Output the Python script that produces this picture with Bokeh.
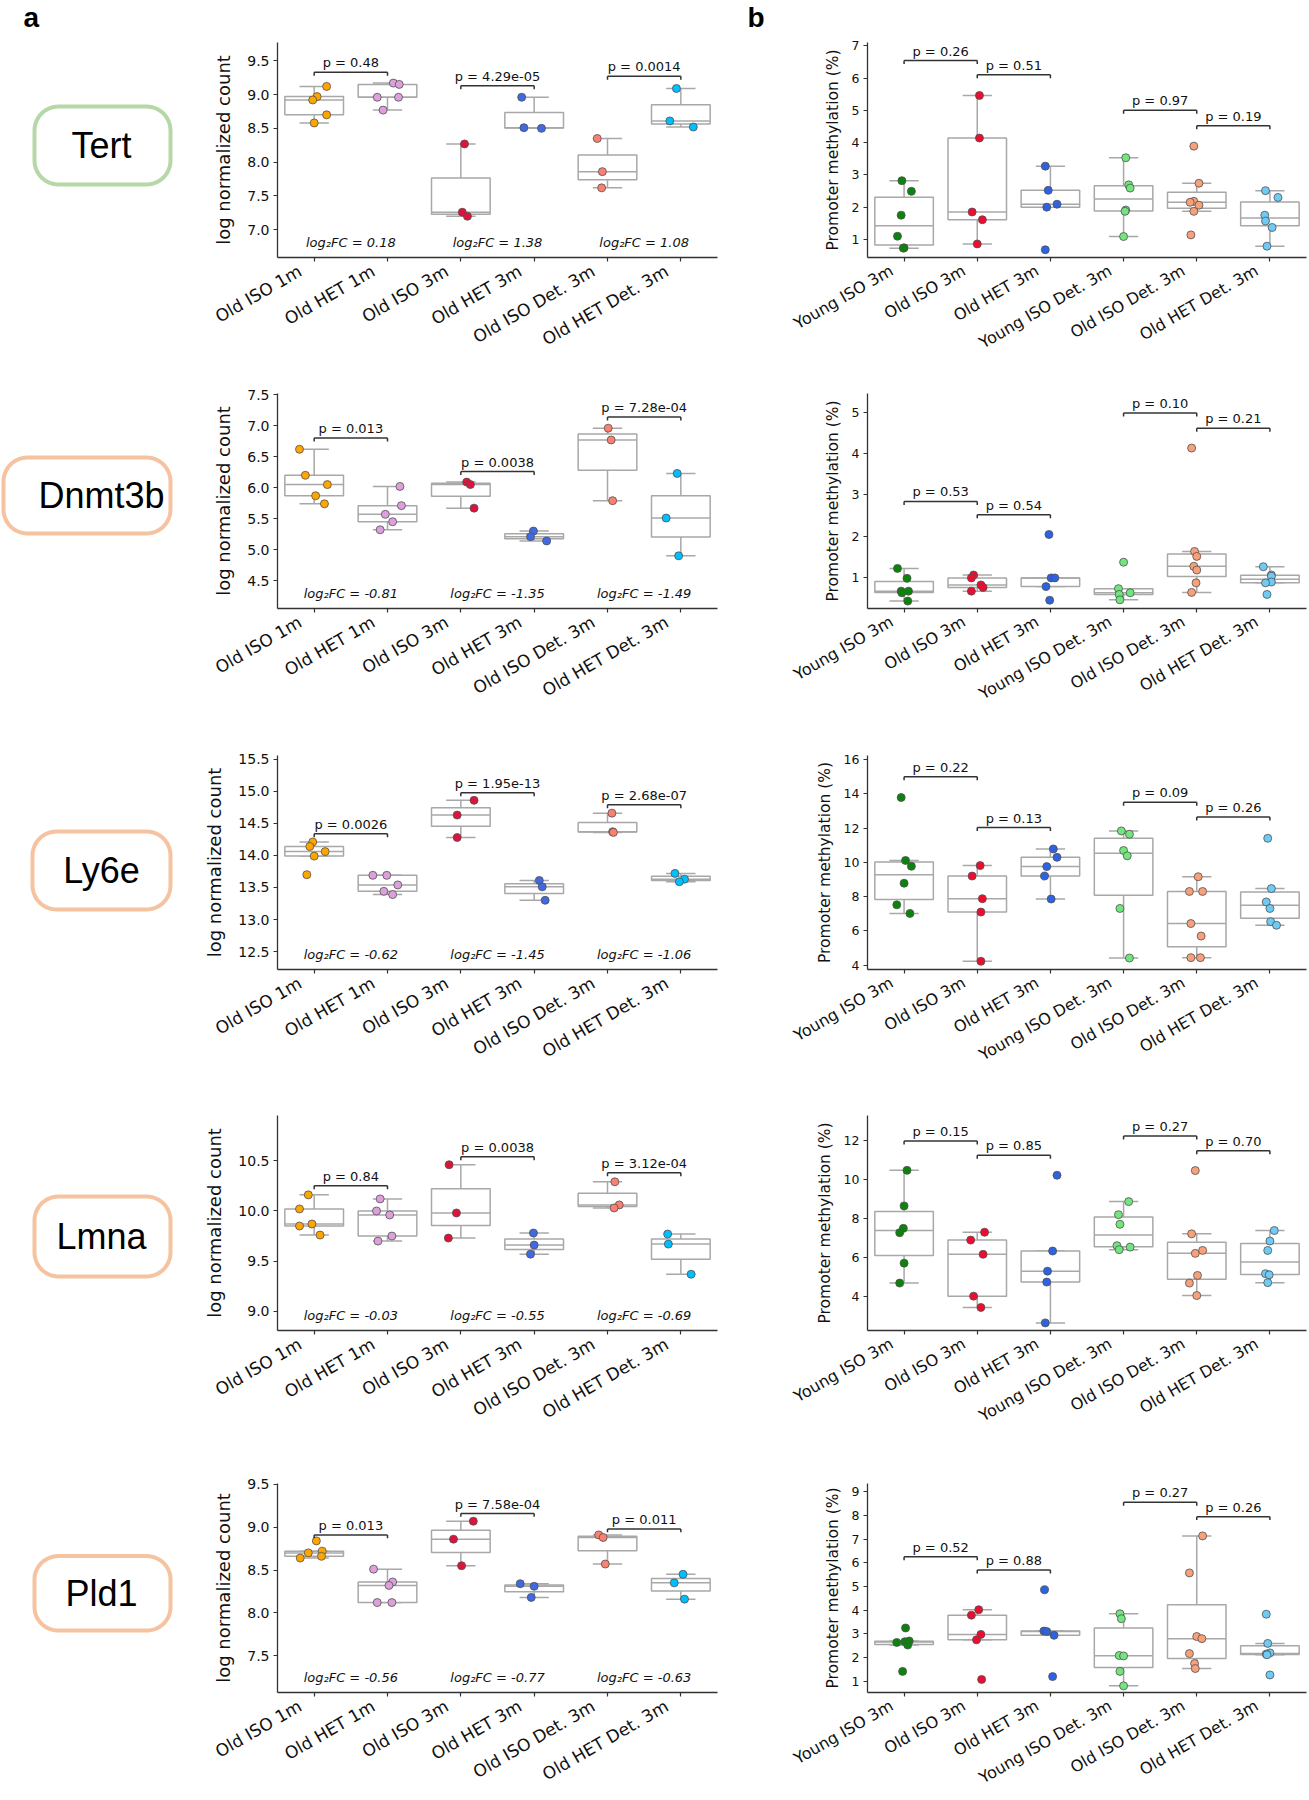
import math
import numpy as np
from bokeh.plotting import figure
from bokeh.layouts import column, row
from bokeh.models import Range1d, FixedTicker, NumeralTickFormatter
from bokeh.core.properties import value
from bokeh.embed import file_html
from bokeh.resources import INLINE

# ---------------------------------------------------------------- data
genes = ["Tert", "Dnmt3b", "Ly6e", "Lmna", "Pld1"]
rna_groups = ["Old ISO 1m", "Old HET 1m", "Old ISO 3m", "Old HET 3m",
              "Old ISO Det. 3m", "Old HET Det. 3m"]
meth_groups = ["Young ISO 3m", "Old ISO 3m", "Old HET 3m", "Young ISO Det. 3m",
               "Old ISO Det. 3m", "Old HET Det. 3m"]
rna_colors = ["#FFA500", "#DDA0DD", "#DC143C", "#4169E1", "#FA8072", "#00BFFF"]
meth_colors = ["#0A840A", "#EE0C30", "#2D62E0", "#72E67E", "#F7A07A", "#6ECBF5"]
gene_box_colors = ["#B6D7A8", "#F6C3A0", "#F6C3A0", "#F6C3A0", "#F6C3A0"]

# --- log normalized counts (panel a), values and strip jitter
tert_rna = [[9.12, 8.97, 8.92, 8.70, 8.58], [9.17, 9.15, 8.96, 8.96, 8.77],
            [8.27, 7.26, 7.20], [8.96, 8.51, 8.50], [8.35, 7.86, 7.62], [9.09, 8.61, 8.52]]
tert_rna_jit = [[0.17, 0.04, -0.02, 0.17, 0.0], [0.08, 0.16, -0.14, 0.15, -0.06],
                [0.05, 0.02, 0.09], [-0.17, -0.14, 0.10], [-0.14, -0.07, -0.08], [-0.06, -0.15, 0.17]]
dnmt3b_rna = [[6.62, 6.20, 6.05, 5.87, 5.74], [6.02, 5.71, 5.57, 5.45, 5.32],
              [6.09, 6.05, 5.67], [5.30, 5.21, 5.14], [6.96, 6.77, 5.79], [6.23, 5.51, 4.90]]
dnmt3b_rna_jit = [[-0.20, -0.12, 0.18, 0.02, 0.14], [0.17, 0.19, -0.03, 0.07, -0.10],
                  [0.08, 0.13, 0.18], [-0.01, -0.05, 0.17], [0.01, 0.05, 0.07], [-0.05, -0.20, -0.03]]
ly6e_rna = [[14.21, 14.14, 14.06, 13.99, 13.70], [13.69, 13.69, 13.54, 13.44, 13.39],
            [14.86, 14.63, 14.28], [13.61, 13.51, 13.30], [14.66, 14.37, 14.36], [13.72, 13.63, 13.59]]
ly6e_rna_jit = [[-0.02, -0.06, 0.15, 0.0, -0.10], [-0.20, -0.01, 0.14, -0.05, 0.07],
                [0.18, -0.05, -0.05], [0.07, 0.11, 0.15], [0.06, 0.07, 0.08], [-0.08, 0.05, -0.02]]
lmna_rna = [[10.16, 10.02, 9.85, 9.87, 9.76], [10.12, 10.00, 9.96, 9.75, 9.70],
            [10.46, 9.98, 9.73], [9.78, 9.66, 9.57], [10.29, 10.06, 10.03], [9.77, 9.67, 9.37]]
lmna_rna_jit = [[-0.08, -0.20, -0.20, -0.03, 0.08], [-0.10, -0.15, 0.03, 0.06, -0.13],
                [-0.16, -0.06, -0.17], [-0.01, 0.0, -0.05], [0.10, 0.16, 0.09], [-0.18, -0.17, 0.14]]
pld1_rna = [[8.84, 8.72, 8.70, 8.66, 8.64], [8.51, 8.36, 8.32, 8.12, 8.12],
            [9.07, 8.86, 8.55], [8.34, 8.31, 8.18], [8.91, 8.88, 8.57], [8.45, 8.35, 8.16]]
pld1_rna_jit = [[0.03, 0.11, -0.08, 0.10, -0.19], [-0.19, 0.07, 0.02, -0.14, 0.06],
                [0.17, -0.10, 0.01], [-0.19, 0.0, -0.04], [-0.12, -0.06, -0.03], [0.03, -0.09, 0.05]]

# --- promoter methylation % (panel b)
tert_meth = [[2.82, 2.49, 1.75, 1.10, 0.74, 0.73], [5.46, 4.14, 1.85, 1.61, 0.86],
             [3.27, 2.52, 2.09, 2.00, 0.68], [3.53, 2.69, 2.59, 1.91, 1.87, 1.09],
             [3.89, 2.74, 2.18, 2.15, 2.06, 1.87, 1.14], [2.51, 2.30, 1.75, 1.57, 1.37, 0.79]]
tert_meth_jit = [[-0.03, 0.10, -0.04, -0.09, 0.0, -0.01], [0.03, 0.03, -0.07, 0.07, 0.0],
                 [-0.07, -0.03, 0.09, -0.05, -0.07], [0.03, 0.07, 0.09, 0.03, 0.02, 0.0],
                 [-0.04, 0.03, -0.04, -0.09, 0.03, -0.04, -0.08], [-0.06, 0.11, -0.07, -0.06, 0.03, -0.04]]
dnmt3b_meth = [[1.22, 0.98, 0.67, 0.67, 0.63, 0.43], [1.06, 0.99, 0.82, 0.76, 0.67],
               [2.04, 0.99, 0.99, 0.78, 0.45], [1.37, 0.73, 0.59, 0.63, 0.46],
               [4.13, 1.63, 1.51, 1.27, 1.18, 0.87, 0.64], [1.26, 1.06, 1.03, 0.89, 0.87, 0.59]]
dnmt3b_meth_jit = [[-0.09, 0.04, -0.04, 0.06, -0.03, 0.05], [-0.05, -0.08, 0.05, 0.08, -0.08],
                   [-0.02, 0.01, 0.06, -0.06, -0.01], [0.0, -0.07, -0.06, 0.09, -0.05],
                   [-0.07, -0.03, 0.0, -0.04, 0.0, -0.01, -0.07], [-0.09, 0.02, 0.02, 0.02, -0.06, -0.04]]
ly6e_meth = [[13.78, 10.11, 9.77, 8.78, 7.52, 7.02], [9.81, 9.20, 7.88, 7.10, 4.23],
             [10.78, 10.29, 9.75, 9.20, 7.86], [11.83, 11.64, 10.69, 10.38, 7.31, 4.42],
             [9.16, 8.30, 8.30, 6.43, 5.70, 4.44, 4.44], [11.40, 8.47, 7.69, 7.31, 6.54, 6.33]]
ly6e_meth_jit = [[-0.04, 0.02, 0.10, 0.0, -0.10, 0.08], [0.04, -0.07, 0.07, 0.05, 0.05],
                 [0.04, 0.09, -0.05, -0.08, 0.01], [-0.03, 0.08, 0.0, 0.05, -0.05, 0.08],
                 [0.02, -0.10, 0.08, -0.08, 0.06, -0.08, 0.05], [-0.03, 0.02, -0.05, 0.0, 0.01, 0.09]]
lmna_meth = [[10.46, 8.64, 7.49, 7.27, 5.71, 4.69], [7.29, 6.89, 6.16, 4.02, 3.44],
             [10.21, 6.33, 5.30, 4.74, 2.65], [8.86, 8.19, 7.70, 6.60, 6.40, 6.53],
             [10.45, 7.21, 6.21, 6.36, 5.08, 4.69, 4.05], [7.38, 6.84, 6.36, 5.17, 5.11, 4.71]]
lmna_meth_jit = [[0.04, 0.0, -0.01, -0.06, 0.0, -0.06], [0.10, -0.09, 0.08, -0.05, 0.05],
                 [0.09, 0.03, -0.04, -0.05, -0.07], [0.07, -0.07, -0.05, -0.09, -0.06, 0.09],
                 [-0.02, -0.07, -0.02, 0.08, 0.01, -0.10, 0.0], [0.06, 0.0, -0.03, -0.06, -0.01, -0.03]]
pld1_meth = [[3.25, 2.70, 2.67, 2.64, 2.53, 1.42], [4.02, 3.79, 2.98, 2.75, 1.08],
             [4.86, 3.12, 3.10, 2.94, 1.20], [3.85, 3.64, 2.09, 2.07, 1.42, 0.81],
             [7.13, 5.57, 2.89, 2.80, 2.17, 1.75, 1.54], [3.83, 2.60, 2.20, 2.15, 2.12, 1.27]]
pld1_meth_jit = [[0.02, 0.07, 0.01, -0.10, 0.05, -0.02], [0.02, -0.08, 0.05, -0.01, 0.06],
                 [-0.08, -0.09, -0.05, 0.05, 0.03], [-0.05, -0.03, -0.06, 0.0, -0.05, 0.0],
                 [0.08, -0.10, 0.0, 0.07, -0.10, -0.03, -0.02], [-0.05, -0.03, 0.0, -0.05, -0.04, 0.0]]

# --- statistics annotations
rna_pairs = [(0, 1), (2, 3), (4, 5)]
meth_pairs = [(0, 1), (1, 2), (3, 4), (4, 5)]
rna_bracket_y = [[9.33, 9.13, 9.27], [6.80, 6.26, 7.14], [14.34, 14.98, 14.79],
                 [10.25, 10.54, 10.38], [8.91, 9.16, 8.98]]
rna_pvals = [["0.48", "4.29e-05", "0.0014"], ["0.013", "0.0038", "7.28e-04"],
             ["0.0026", "1.95e-13", "2.68e-07"], ["0.84", "0.0038", "3.12e-04"],
             ["0.013", "7.58e-04", "0.011"]]
rna_log2fc = [["0.18", "1.38", "1.08"], ["-0.81", "-1.35", "-1.49"], ["-0.62", "-1.45", "-1.06"],
              ["-0.03", "-0.55", "-0.69"], ["-0.56", "-0.77", "-0.63"]]
meth_bracket_y = [[6.54, 6.10, 5.00, 4.52], [2.84, 2.52, 4.98, 4.61], [14.99, 12.03, 13.50, 12.64],
                  [11.97, 11.24, 12.22, 11.46], [6.25, 5.69, 8.55, 7.94]]
meth_pvals = [["0.26", "0.51", "0.97", "0.19"], ["0.53", "0.54", "0.10", "0.21"],
              ["0.22", "0.13", "0.09", "0.26"], ["0.15", "0.85", "0.27", "0.70"],
              ["0.52", "0.88", "0.27", "0.26"]]

# --- axes
rna_ylim = [(6.59, 9.77), (4.05, 7.52), (12.22, 15.56), (8.81, 10.95), (7.07, 9.51)]
rna_yticks = [[7.0, 7.5, 8.0, 8.5, 9.0, 9.5], [4.5, 5.0, 5.5, 6.0, 6.5, 7.0, 7.5],
              [12.5, 13.0, 13.5, 14.0, 14.5, 15.0, 15.5], [9.0, 9.5, 10.0, 10.5],
              [7.5, 8.0, 8.5, 9.0, 9.5]]
meth_ylim = [(0.44, 7.10), (0.25, 5.45), (3.75, 16.23), (2.26, 13.27), (0.53, 9.34)]
meth_yticks = [[1, 2, 3, 4, 5, 6, 7], [1, 2, 3, 4, 5], [4, 6, 8, 10, 12, 14, 16],
               [4, 6, 8, 10, 12], [1, 2, 3, 4, 5, 6, 7, 8, 9]]

rna_vals = [tert_rna, dnmt3b_rna, ly6e_rna, lmna_rna, pld1_rna]
rna_jits = [tert_rna_jit, dnmt3b_rna_jit, ly6e_rna_jit, lmna_rna_jit, pld1_rna_jit]
meth_vals = [tert_meth, dnmt3b_meth, ly6e_meth, lmna_meth, pld1_meth]
meth_jits = [tert_meth_jit, dnmt3b_meth_jit, ly6e_meth_jit, lmna_meth_jit, pld1_meth_jit]

# ---------------------------------------------------------------- layout (page pixels)
PAGE_W = 1309
HEADER_H = 34
BANDS = [(34, 375), (375, 735), (735, 1090), (1090, 1455), (1455, 1798)]
FRAMES = [(42, 257), (393, 608), (755, 969), (1115, 1330), (1483, 1699)]
LAB_X = (0, 198)
A_X = (198, 790, 277, 717)     # fig left, fig right, frame left, frame right
B_X = (790, 1309, 867, 1306)
GENE_BOXES = [(34, 106, 170, 184), (3, 457, 170, 533), (32, 831, 170, 909),
              (34, 1196, 170, 1276), (34, 1558, 170, 1635)]
GENE_TEXT_X = 101
LETTERS_X = (23, 747)
LETTER_MID = 17
PAD = "\u00a0\u00a0\u00a0"    # shifts rotated tick labels like matplotlib's ha="right"

FONT = "DejaVu Sans"
AXC = "#333333"
BOXC = "#a8a8a8"
TXT = "#111111"


def box_stats(v):
    a = np.sort(np.asarray(v, dtype=float))
    q1, med, q3 = np.percentile(a, [25, 50, 75])
    iqr = q3 - q1
    lo = min(a[a >= q1 - 1.5 * iqr].min(), q1)
    hi = max(a[a <= q3 + 1.5 * iqr].max(), q3)
    return q1, med, q3, lo, hi


def make_panel(groups, colors, vals, jits, ylim, yticks, fmt, ylabel, ylabel_size,
               tick_size, xlab_size, pairs, br_y, pvals, fcs, xgeom, band, frame_y):
    fx0, fx1, frx0, frx1 = xgeom
    band_h = band[1] - band[0]
    frame_h = frame_y[1] - frame_y[0]
    px = (ylim[1] - ylim[0]) / frame_h
    p = figure(width=fx1 - fx0, height=band_h, x_range=Range1d(-0.5, 5.5),
               y_range=Range1d(*ylim), output_backend="svg", toolbar_location=None,
               min_border_left=frx0 - fx0, min_border_right=fx1 - frx1,
               min_border_top=frame_y[0] - band[0], min_border_bottom=band[1] - frame_y[1])
    p.outline_line_color = None
    p.xgrid.visible = False
    p.ygrid.visible = False
    p.background_fill_color = "white"
    p.border_fill_color = "white"

    # boxes
    stats = [box_stats(v) for v in vals]
    xs = list(range(len(vals)))
    q1 = [s[0] for s in stats]
    med = [s[1] for s in stats]
    q3 = [s[2] for s in stats]
    lo = [s[3] for s in stats]
    hi = [s[4] for s in stats]
    p.segment(x0=xs, y0=q3, x1=xs, y1=hi, line_color=BOXC, line_width=1.5)
    p.segment(x0=xs, y0=q1, x1=xs, y1=lo, line_color=BOXC, line_width=1.5)
    p.segment(x0=[x - 0.2 for x in xs], y0=hi, x1=[x + 0.2 for x in xs], y1=hi,
              line_color=BOXC, line_width=1.5)
    p.segment(x0=[x - 0.2 for x in xs], y0=lo, x1=[x + 0.2 for x in xs], y1=lo,
              line_color=BOXC, line_width=1.5)
    p.quad(left=[x - 0.4 for x in xs], right=[x + 0.4 for x in xs], bottom=q1, top=q3,
           fill_color="white", line_color=BOXC, line_width=1.5)
    p.segment(x0=[x - 0.4 for x in xs], y0=med, x1=[x + 0.4 for x in xs], y1=med,
              line_color=BOXC, line_width=1.5)

    # points
    px_x, px_y, px_c = [], [], []
    for i, (v, j) in enumerate(zip(vals, jits)):
        px_x += [i + o for o in j]
        px_y += list(v)
        px_c += [colors[i]] * len(v)
    p.scatter(x=px_x, y=px_y, size=8, fill_color=px_c, line_color="#505050", line_width=0.8)

    # brackets
    d = 3.5 * px
    bx0, by0, bx1, by1 = [], [], [], []
    for (a, b), h in zip(pairs, br_y):
        bx0 += [a, a, b]
        by0 += [h, h, h]
        bx1 += [b, a, b]
        by1 += [h, h - d, h - d]
    p.segment(x0=bx0, y0=by0, x1=bx1, y1=by1, line_color=AXC, line_width=1.5)
    p.text(x=[(a + b) / 2 for a, b in pairs], y=[h + 2 * px for h in br_y],
           text=["p = " + s for s in pvals], text_align="center", text_baseline="bottom",
           text_font=value(FONT), text_font_size="13px", text_color=TXT)

    if fcs is not None:
        yfc = ylim[0] + 0.072 * (ylim[1] - ylim[0])
        p.text(x=[(a + b) / 2 for a, b in pairs], y=[yfc] * len(pairs),
               text=["log\u2082FC = " + s for s in fcs], text_align="center",
               text_baseline="middle", text_font=value(FONT), text_font_size="13px",
               text_font_style="italic", text_color=TXT)

    # axes
    for ax in (p.xaxis[0], p.yaxis[0]):
        ax.axis_line_color = AXC
        ax.axis_line_width = 1.3
        ax.major_tick_line_color = AXC
        ax.major_tick_line_width = 1.2
        ax.major_tick_out = 4
        ax.major_tick_in = 0
        ax.minor_tick_line_color = None
        ax.major_label_text_font = FONT
        ax.major_label_text_color = TXT
    xa = p.xaxis[0]
    xa.ticker = FixedTicker(ticks=xs)
    xa.major_label_overrides = {i: g + PAD for i, g in enumerate(groups)}
    xa.major_label_orientation = math.pi / 6
    xa.major_label_text_font_size = xlab_size
    xa.major_label_standoff = 0
    ya = p.yaxis[0]
    ya.ticker = FixedTicker(ticks=yticks)
    ya.formatter = NumeralTickFormatter(format=fmt)
    ya.major_label_text_font_size = tick_size
    ya.major_label_standoff = 4
    ya.axis_label = ylabel
    ya.axis_label_text_font = FONT
    ya.axis_label_text_font_style = "normal"
    ya.axis_label_text_font_size = ylabel_size
    ya.axis_label_text_color = TXT
    ya.axis_label_standoff = 10 if fmt == "0.0" else 7
    return p


def plain_fig(w, h, xr, yr, top=0, bottom=0):
    f = figure(width=w, height=h, x_range=Range1d(*xr), y_range=Range1d(*yr),
               output_backend="svg", toolbar_location=None, min_border_left=0,
               min_border_right=0, min_border_top=top, min_border_bottom=bottom)
    f.axis.visible = False
    f.xgrid.visible = False
    f.ygrid.visible = False
    f.outline_line_color = None
    f.background_fill_color = "white"
    f.border_fill_color = "white"
    return f


def rounded_rect(x0, y0, x1, y1, r, n=14):
    xs, ys = [], []
    for cx, cy, a0 in [(x1 - r, y1 - r, 0), (x0 + r, y1 - r, 90),
                       (x0 + r, y0 + r, 180), (x1 - r, y0 + r, 270)]:
        t = np.radians(np.linspace(a0, a0 + 90, n))
        xs += list(cx + r * np.cos(t))
        ys += list(cy + r * np.sin(t))
    return xs, ys


# header strip with the panel letters (y runs downward in page pixels)
header = plain_fig(PAGE_W, HEADER_H, (0, PAGE_W), (HEADER_H, 0))
header.text(x=list(LETTERS_X), y=[LETTER_MID, LETTER_MID], text=["a", "b"],
            text_align="left", text_baseline="middle", text_font=value("Liberation Sans"),
            text_font_size="28px", text_font_style="bold", text_color="black")

rows = [header]
for g in range(len(genes)):
    band = BANDS[g]
    fr = FRAMES[g]
    lab = plain_fig(LAB_X[1] - LAB_X[0], band[1] - band[0], LAB_X, (fr[1], fr[0]),
                    top=fr[0] - band[0], bottom=band[1] - fr[1])
    bx0, by0, bx1, by1 = GENE_BOXES[g]
    rx, ry = rounded_rect(bx0, by0, bx1, by1, 24)
    lab.patch(rx, ry, fill_color="white", line_color=gene_box_colors[g], line_width=4)
    lab.text(x=[GENE_TEXT_X], y=[(by0 + by1) / 2], text=[genes[g]],
             text_align="center", text_baseline="middle", text_font=value("Liberation Sans"),
             text_font_size="36px", text_color="black")

    pa = make_panel(rna_groups, rna_colors, rna_vals[g], rna_jits[g], rna_ylim[g], rna_yticks[g],
                    "0.0", "log normalized count", "18px", "14px", "17px",
                    rna_pairs, rna_bracket_y[g], rna_pvals[g], rna_log2fc[g], A_X, band, fr)
    pb = make_panel(meth_groups, meth_colors, meth_vals[g], meth_jits[g], meth_ylim[g],
                    meth_yticks[g], "0", "Promoter methylation (%)", "15.5px", "12.5px", "16px",
                    meth_pairs, meth_bracket_y[g], meth_pvals[g], None, B_X, band, fr)
    rows.append(row(lab, pa, pb, spacing=0))

layout = column(*rows, spacing=0)
open("out.html", "w").write(file_html(layout, INLINE))
